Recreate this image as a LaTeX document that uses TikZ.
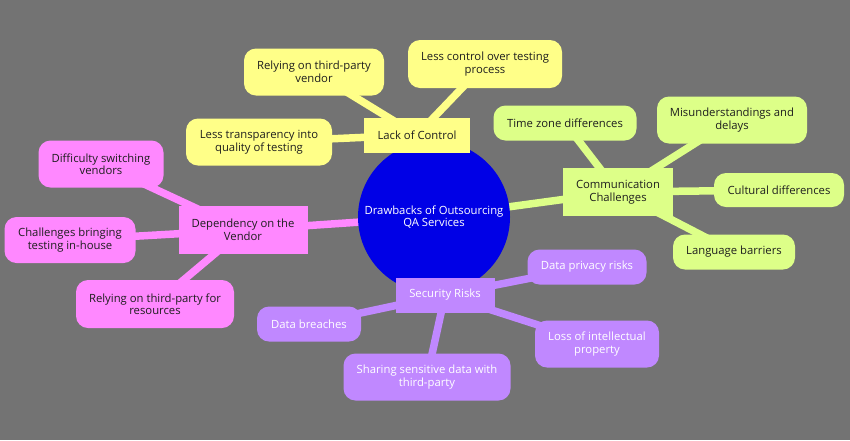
\documentclass[tikz,border=0pt]{standalone}
\usepackage{fontspec}
\setmainfont{Open Sans}
\usetikzlibrary{backgrounds}
\definecolor{bgc}{HTML}{737373}
\definecolor{ylw}{HTML}{FFFF88}
\definecolor{grn}{HTML}{DDFF88}
\definecolor{mag}{HTML}{FF88FF}
\definecolor{pur}{HTML}{C088FF}
\definecolor{cblue}{HTML}{0000E6}
\definecolor{txt}{HTML}{1E1E1E}
\tikzset{
  base/.style={align=center, inner sep=2pt, font=\fontsize{11.3}{12.5}\selectfont},
  hub/.style={base, rectangle, fill=#1, text=txt},
  leaf/.style={base, rectangle, rounded corners=12pt, fill=#1, text=txt},
  hubw/.style={base, rectangle, fill=#1, text=white},
  leafw/.style={base, rectangle, rounded corners=12pt, fill=#1, text=white},
  conn/.style={draw=#1, line width=7.5pt},
  sz/.style 2 args={minimum width=#1, minimum height=#2}
}
\begin{document}
\begin{tikzpicture}[x=1pt,y=-1pt]
\useasboundingbox (0,0) rectangle (850,440);
% center
\node[circle, fill=cblue, minimum size=152, text=white, align=center, font=\fontsize{11.3}{12.5}\selectfont] (root) at (434,217) {Drawbacks of Outsourcing\\QA Services};
% Lack of control
\node[hub=ylw, sz={106}{35}] (loc) at (417,135) {Lack of Control};
\node[leaf=ylw, sz={140}{47}] (loc1) at (314,72) {Relying on third-party\\vendor};
\node[leaf=ylw, sz={154}{48}] (loc2) at (485,64) {Less control over testing\\process};
\node[leaf=ylw, sz={146}{47}] (loc3) at (259,142) {Less transparency into\\quality of testing};
% Communication
\node[hub=grn, sz={110}{48}] (com) at (618,192) {Communication\\Challenges};
\node[leaf=grn, sz={143}{35}] (com1) at (565,123) {Time zone differences};
\node[leaf=grn, sz={150}{47}] (com2) at (732,120) {Misunderstandings and\\delays};
\node[leaf=grn, sz={130}{34}] (com3) at (779,190) {Cultural differences};
\node[leaf=grn, sz={122}{35}] (com4) at (734,252) {Language barriers};
% Dependency
\node[hub=mag, sz={129}{48}] (dep) at (243,230) {Dependency on the\\Vendor};
\node[leaf=mag, sz={125}{47}] (dep1) at (101,164) {Difficulty switching\\vendors};
\node[leaf=mag, sz={131}{46}] (dep2) at (70,240) {Challenges bringing\\testing in-house};
\node[leaf=mag, sz={158}{48}] (dep3) at (155,304) {Relying on third-party for\\resources};
% Security
\node[hubw=pur, sz={99}{35}] (sec) at (445,295) {Security Risks};
\node[leafw=pur, sz={119}{35}] (sec1) at (587,267) {Data privacy risks};
\node[leafw=pur, sz={104}{35}] (sec2) at (309,324) {Data breaches};
\node[leafw=pur, sz={167}{47}] (sec3) at (427,377) {Sharing sensitive data with\\third-party};
\node[leafw=pur, sz={124}{47}] (sec4) at (597,344) {Loss of intellectual\\property};
\begin{pgfonlayer}{background}
\fill[bgc] (0,0) rectangle (850,440);
\draw[conn=ylw] (root.center) -- (loc.center);
\draw[conn=grn] (root.center) -- (com.center);
\draw[conn=mag] (root.center) -- (dep.center);
\draw[conn=pur] (root.center) -- (sec.center);
\foreach \c in {loc1,loc2,loc3} \draw[conn=ylw] (loc.center) -- (\c.center);
\foreach \c in {com1,com2,com3,com4} \draw[conn=grn] (com.center) -- (\c.center);
\foreach \c in {dep1,dep2,dep3} \draw[conn=mag] (dep.center) -- (\c.center);
\foreach \c in {sec1,sec2,sec3,sec4} \draw[conn=pur] (sec.center) -- (\c.center);
\end{pgfonlayer}
\end{tikzpicture}
\end{document}
